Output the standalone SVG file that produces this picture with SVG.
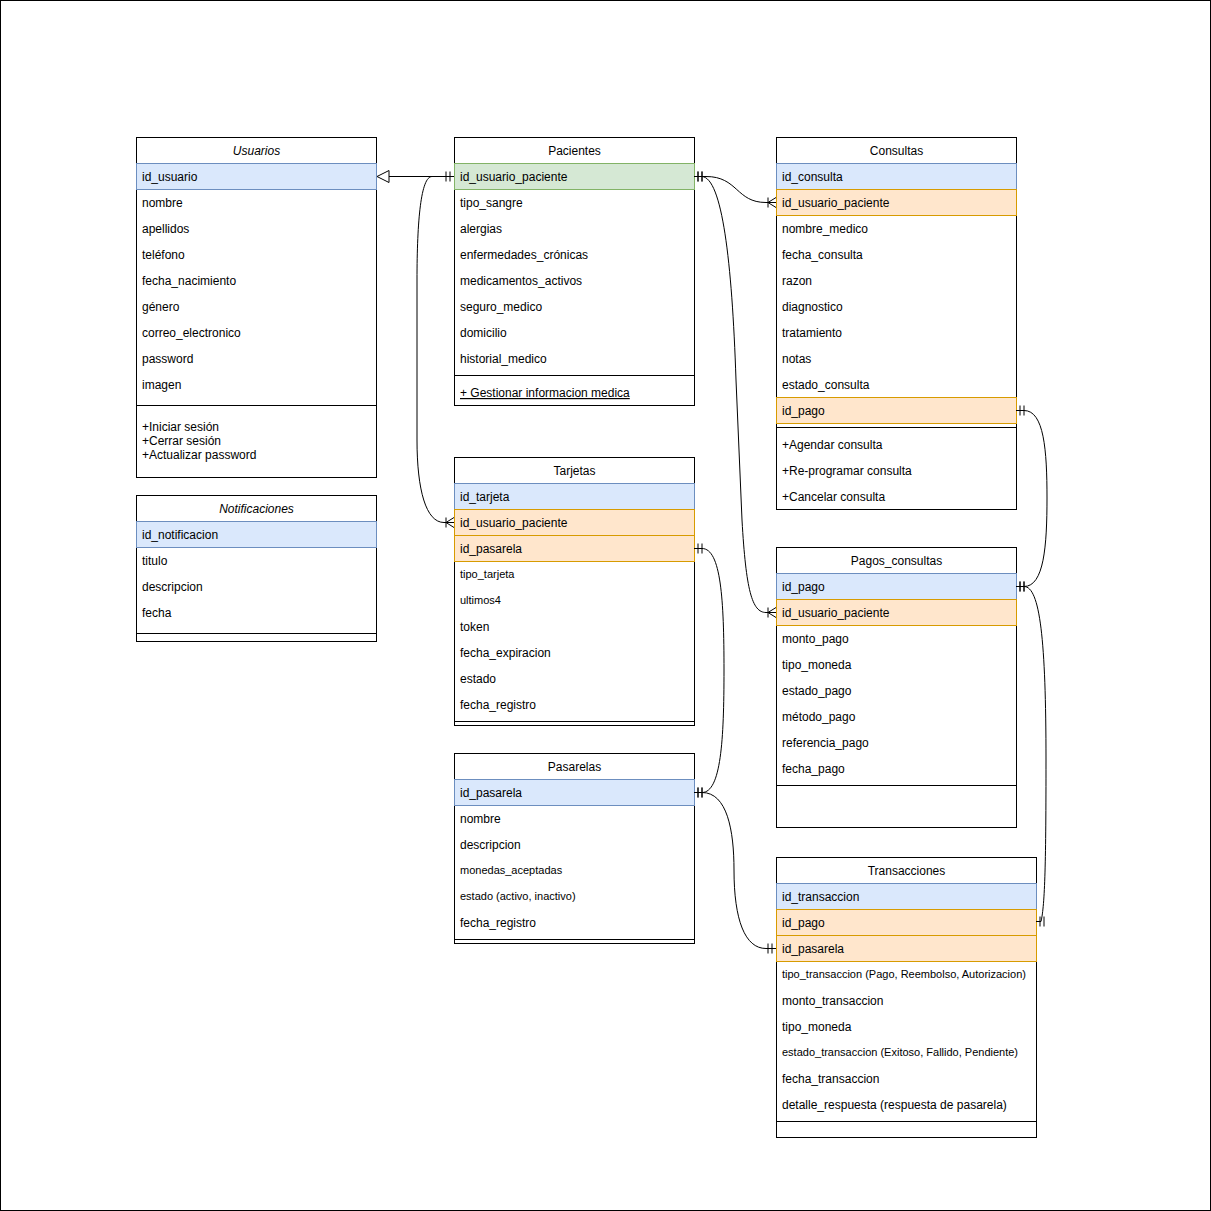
<svg xmlns="http://www.w3.org/2000/svg" width="1211" height="1211" viewBox="0 0 1211 1211">
<style>
text{font-family:"Liberation Sans",Arial,Helvetica,sans-serif;font-size:12px;fill:#000}
.h{text-anchor:middle}
.it{font-style:italic}
.s{font-size:11px}
.u{text-decoration:underline}
.box{fill:#fff;stroke:#000;stroke-width:1}
.sep{stroke:#000;stroke-width:1}
.pk{fill:#dae8fc;stroke:#6c8ebf;stroke-width:1}
.fk{fill:#ffe6cc;stroke:#d79b00;stroke-width:1}
.gk{fill:#d5e8d4;stroke:#82b366;stroke-width:1}
.c{fill:none;stroke:#000;stroke-width:1}
</style>
<defs>
<marker id="one" viewBox="0 0 12 12" markerWidth="12" markerHeight="12" refX="10" refY="6" orient="auto-start-reverse" markerUnits="userSpaceOnUse">
<path d="M2,1 L2,11 M6,1 L6,11" fill="none" stroke="#000" stroke-width="1"/>
</marker>
<marker id="many" viewBox="0 0 12 12" markerWidth="12" markerHeight="12" refX="10" refY="6" orient="auto-start-reverse" markerUnits="userSpaceOnUse">
<path d="M2,6 L10,1 M2,6 L10,6 M2,6 L10,11 M2,1 L2,11" fill="none" stroke="#000" stroke-width="1"/>
</marker>
</defs>
<rect x="0.5" y="0.5" width="1210" height="1210" fill="#fff" stroke="#000"/>

<g id="usuarios">
<rect class="box" x="136.5" y="137.5" width="240" height="340"/>
<text class="h it" x="256.5" y="155">Usuarios</text>
<rect class="pk" x="136.5" y="163.5" width="240" height="26"/>
<text x="142" y="181">id_usuario</text>
<text x="142" y="207">nombre</text>
<text x="142" y="233">apellidos</text>
<text x="142" y="259">teléfono</text>
<text x="142" y="285">fecha_nacimiento</text>
<text x="142" y="311">género</text>
<text x="142" y="337">correo_electronico</text>
<text x="142" y="363">password</text>
<text x="142" y="389">imagen</text>
<line class="sep" x1="136.5" y1="405.5" x2="376.5" y2="405.5"/>
<text x="142" y="431">+Iniciar sesión</text>
<text x="142" y="445">+Cerrar sesión</text>
<text x="142" y="459">+Actualizar password</text>
</g>

<g id="notificaciones">
<rect class="box" x="136.5" y="495.5" width="240" height="146"/>
<text class="h it" x="256.5" y="513">Notificaciones</text>
<rect class="pk" x="136.5" y="521.5" width="240" height="26"/>
<text x="142" y="539">id_notificacion</text>
<text x="142" y="565">titulo</text>
<text x="142" y="591">descripcion</text>
<text x="142" y="617">fecha</text>
<line class="sep" x1="136.5" y1="633.5" x2="376.5" y2="633.5"/>
</g>

<g id="pacientes">
<rect class="box" x="454.5" y="137.5" width="240" height="268"/>
<text class="h" x="574.5" y="155">Pacientes</text>
<rect class="gk" x="454.5" y="163.5" width="240" height="26"/>
<text x="460" y="181">id_usuario_paciente</text>
<text x="460" y="207">tipo_sangre</text>
<text x="460" y="233">alergias</text>
<text x="460" y="259">enfermedades_crónicas</text>
<text x="460" y="285">medicamentos_activos</text>
<text x="460" y="311">seguro_medico</text>
<text x="460" y="337">domicilio</text>
<text x="460" y="363">historial_medico</text>
<line class="sep" x1="454.5" y1="375.5" x2="694.5" y2="375.5"/>
<text class="u" x="460" y="397">+ Gestionar informacion medica</text>
</g>

<g id="tarjetas">
<rect class="box" x="454.5" y="457.5" width="240" height="268"/>
<text class="h" x="574.5" y="475">Tarjetas</text>
<rect class="pk" x="454.5" y="483.5" width="240" height="26"/>
<text x="460" y="501">id_tarjeta</text>
<rect class="fk" x="454.5" y="509.5" width="240" height="26"/>
<text x="460" y="527">id_usuario_paciente</text>
<rect class="fk" x="454.5" y="535.5" width="240" height="26"/>
<text x="460" y="553">id_pasarela</text>
<text class="s" x="460" y="578">tipo_tarjeta</text>
<text class="s" x="460" y="604">ultimos4</text>
<text x="460" y="631">token</text>
<text x="460" y="657">fecha_expiracion</text>
<text x="460" y="683">estado</text>
<text x="460" y="709">fecha_registro</text>
<line class="sep" x1="454.5" y1="721.5" x2="694.5" y2="721.5"/>
</g>

<g id="pasarelas">
<rect class="box" x="454.5" y="753.5" width="240" height="190"/>
<text class="h" x="574.5" y="771">Pasarelas</text>
<rect class="pk" x="454.5" y="779.5" width="240" height="26"/>
<text x="460" y="797">id_pasarela</text>
<text x="460" y="823">nombre</text>
<text x="460" y="849">descripcion</text>
<text class="s" x="460" y="874">monedas_aceptadas</text>
<text class="s" x="460" y="900">estado (activo, inactivo)</text>
<text x="460" y="927">fecha_registro</text>
<line class="sep" x1="454.5" y1="939.5" x2="694.5" y2="939.5"/>
</g>

<g id="consultas">
<rect class="box" x="776.5" y="137.5" width="240" height="372"/>
<text class="h" x="896.5" y="155">Consultas</text>
<rect class="pk" x="776.5" y="163.5" width="240" height="26"/>
<text x="782" y="181">id_consulta</text>
<rect class="fk" x="776.5" y="189.5" width="240" height="26"/>
<text x="782" y="207">id_usuario_paciente</text>
<text x="782" y="233">nombre_medico</text>
<text x="782" y="259">fecha_consulta</text>
<text x="782" y="285">razon</text>
<text x="782" y="311">diagnostico</text>
<text x="782" y="337">tratamiento</text>
<text x="782" y="363">notas</text>
<text x="782" y="389">estado_consulta</text>
<rect class="fk" x="776.5" y="397.5" width="240" height="26"/>
<text x="782" y="415">id_pago</text>
<line class="sep" x1="776.5" y1="427.5" x2="1016.5" y2="427.5"/>
<text x="782" y="449">+Agendar consulta</text>
<text x="782" y="475">+Re-programar consulta</text>
<text x="782" y="501">+Cancelar consulta</text>
</g>

<g id="pagos_consultas">
<rect class="box" x="776.5" y="547.5" width="240" height="280"/>
<text class="h" x="896.5" y="565">Pagos_consultas</text>
<rect class="pk" x="776.5" y="573.5" width="240" height="26"/>
<text x="782" y="591">id_pago</text>
<rect class="fk" x="776.5" y="599.5" width="240" height="26"/>
<text x="782" y="617">id_usuario_paciente</text>
<text x="782" y="643">monto_pago</text>
<text x="782" y="669">tipo_moneda</text>
<text x="782" y="695">estado_pago</text>
<text x="782" y="721">método_pago</text>
<text x="782" y="747">referencia_pago</text>
<text x="782" y="773">fecha_pago</text>
<line class="sep" x1="776.5" y1="785.5" x2="1016.5" y2="785.5"/>
</g>

<g id="transacciones">
<rect class="box" x="776.5" y="857.5" width="260" height="280"/>
<text class="h" x="906.5" y="875">Transacciones</text>
<rect class="pk" x="776.5" y="883.5" width="260" height="26"/>
<text x="782" y="901">id_transaccion</text>
<rect class="fk" x="776.5" y="909.5" width="260" height="26"/>
<text x="782" y="927">id_pago</text>
<rect class="fk" x="776.5" y="935.5" width="260" height="26"/>
<text x="782" y="953">id_pasarela</text>
<text class="s" x="782" y="978">tipo_transaccion (Pago, Reembolso, Autorizacion)</text>
<text x="782" y="1005">monto_transaccion</text>
<text x="782" y="1031">tipo_moneda</text>
<text class="s" x="782" y="1056">estado_transaccion (Exitoso, Fallido, Pendiente)</text>
<text x="782" y="1083">fecha_transaccion</text>
<text x="782" y="1109">detalle_respuesta (respuesta de pasarela)</text>
<line class="sep" x1="776.5" y1="1121.5" x2="1036.5" y2="1121.5"/>
</g>

<g id="connectors">
<path class="c" d="M454,176.5 L388,176.5"/>
<polygon points="377,176.5 389,170.5 389,182.5" fill="#fff" stroke="#000"/>
<path class="c" marker-start="url(#one)" marker-end="url(#many)" d="M454,176.5 L432,176.5 C421,176.5 417,220 417,280 L417,440 C417,490 426,522.5 444,522.5 L454,522.5"/>
<path class="c" marker-start="url(#one)" marker-end="url(#many)" d="M694,176.5 L706,176.5 C738,176.5 736,202.5 766,202.5 L776,202.5"/>
<path class="c" marker-start="url(#one)" marker-end="url(#many)" d="M694,176.5 L702,176.5 C722,178 732,260 736,380 L742,520 C746,590 752,612.5 766,612.5 L776,612.5"/>
<path class="c" marker-start="url(#one)" marker-end="url(#one)" d="M1016,410.5 L1024,410.5 C1044,410.5 1047,450 1047,498 C1047,546 1044,586.5 1024,586.5 L1016,586.5"/>
<path class="c" marker-start="url(#one)" marker-end="url(#one)" d="M1016,586.5 L1024,586.5 C1040,586.5 1046,640 1046,760 C1046,860 1045,905 1041,921.5 L1036,921.5"/>
<path class="c" marker-start="url(#one)" marker-end="url(#one)" d="M694,548.5 L702,548.5 C721,548.5 724,600 724,670 C724,740 721,792.5 702,792.5 L694,792.5"/>
<path class="c" marker-start="url(#one)" marker-end="url(#one)" d="M694,792.5 L702,792.5 C727,792.5 734,830 734,870 C734,920 745,948.5 766,948.5 L776,948.5"/>
</g>
</svg>
